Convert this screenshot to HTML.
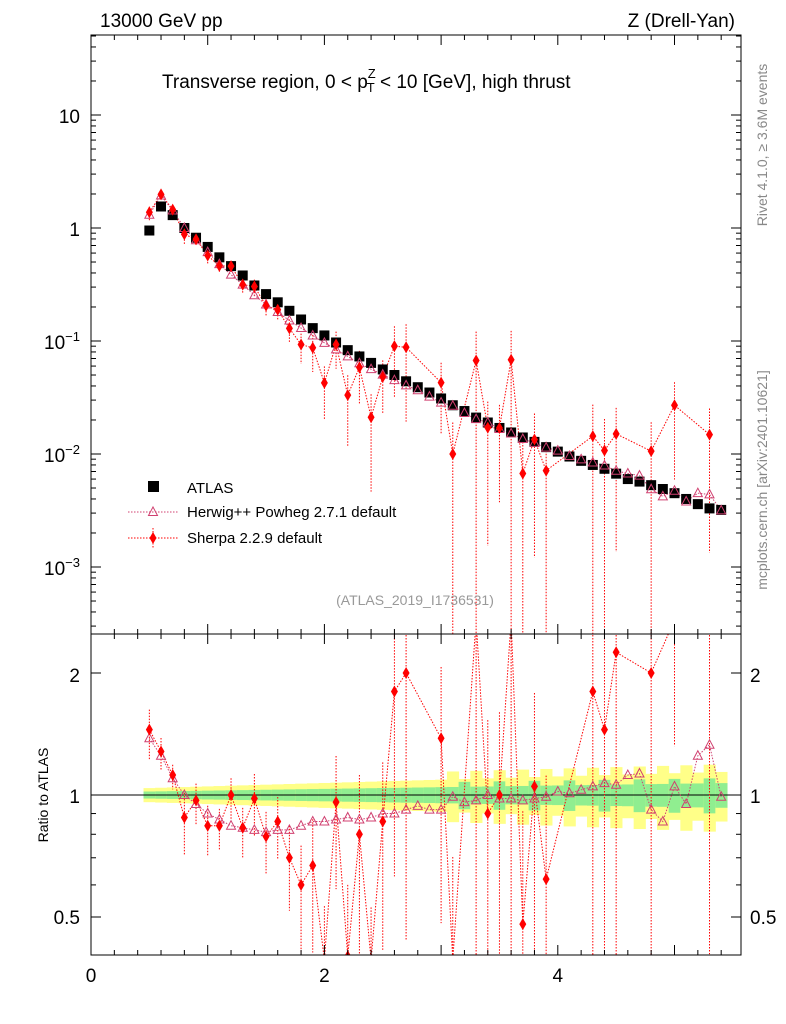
<!DOCTYPE html>
<html><head><meta charset="utf-8"><style>
html,body{margin:0;padding:0;background:#fff;width:786px;height:1024px;overflow:hidden;}
svg{display:block;}
svg text{font-family:"Liberation Sans",sans-serif;}
</style></head><body>
<svg id="s" width="786" height="1024" xmlns="http://www.w3.org/2000/svg"></svg>
<script>
const X0=91,X1=741,XS=116.7;
const fx=x=>X0+x*XS;
const fy=v=>228-113*Math.log10(v);
const fr=r=>795-122*Math.log2(r);
const cl=(v,a,b)=>Math.max(a,Math.min(b,v));
const atlas=[0.95,1.55,1.3,1.0,0.82,0.68,0.55,0.46,0.38,0.31,0.26,0.22,0.185,0.155,0.13,0.112,0.097,0.083,0.073,0.064,0.056,0.05,0.044,0.039,0.035,0.031,0.027,0.024,0.021,0.019,0.017,0.0155,0.014,0.0128,0.0115,0.0105,0.0095,0.0087,0.008,0.0074,0.0067,0.006,0.0057,0.0053,0.0049,0.0045,0.004,0.0036,0.0033,0.0032];
const hw=[1.38,1.25,1.1,1.0,0.95,0.9,0.87,0.84,0.83,0.82,0.81,0.82,0.82,0.84,0.86,0.86,0.87,0.88,0.87,0.88,0.9,0.9,0.92,0.94,0.92,0.92,0.99,0.96,0.97,1.0,0.98,0.98,0.97,0.98,0.99,1.02,1.01,1.03,1.05,1.07,1.06,1.12,1.13,0.92,0.86,1.05,0.95,1.25,1.33,0.99];
const sh=[1.45,1.28,1.12,0.88,0.97,0.84,0.84,1.0,0.83,0.98,0.79,0.86,0.7,0.6,0.67,0.38,0.96,0.4,0.8,0.33,0.86,1.8,2.0,null,null,1.38,0.37,null,3.2,0.9,1.0,4.4,0.48,1.05,0.62,null,null,null,1.8,1.45,2.25,null,null,2.0,null,6,null,null,4.5,null];
const she=[0.12,0.08,0.06,0.15,0.1,0.12,0.1,0.1,0.12,0.15,0.15,0.15,0.2,0.25,0.3,0.4,0.3,0.5,0.4,0.6,0.4,0.5,0.6,0,0,0.5,0.9,0,0.8,0.7,0.6,0.8,0.9,0.7,0.8,0,0,0,0.9,0.9,0.7,0,0,0.8,0,0.6,0,0,0.7,0];
let o='';
const L=(x1,y1,x2,y2,st)=>o+=`<line x1="${x1}" y1="${y1}" x2="${x2}" y2="${y2}" ${st}/>`;
const T=(x,y,t,sz,a,c)=>o+=`<text x="${x}" y="${y}" font-size="${sz}" text-anchor="${a||'start'}" fill="${c||'#000'}">${t}</text>`;
for(let i=0;i<50;i++){const x=0.45+0.1*i,f=i/49;const g=0.02+0.05*f+(i>25&&i%3==0?0.03:0),y=0.04+0.1*f+(i>25&&i%2==0?0.05:0);
o+=`<rect x="${fx(x)}" y="${fr(1+y)}" width="${XS*0.1+0.5}" height="${fr(1-y)-fr(1+y)}" fill="#ffff88"/>`;
o+=`<rect x="${fx(x)}" y="${fr(1+g)}" width="${XS*0.1+0.5}" height="${fr(1-g)-fr(1+g)}" fill="#90ee90"/>`;}
L(X0,795,X1,795,'stroke="#000" stroke-width="1"');
o+=`<defs><clipPath id="cm"><rect x="${X0}" y="35" width="650" height="599"/></clipPath><clipPath id="cr"><rect x="${X0}" y="634" width="650" height="321"/></clipPath></defs>`;
o+='<g clip-path="url(#cm)">';
{let d='';let first=true;sh.forEach((r,i)=>{if(r==null)return;const v=atlas[i]*r,x=fx(0.5+0.1*i),y=fy(v);d+=(first?'M':'L')+x+','+cl(y,30,640);first=false;
 const e=she[i];const lo=r-e*r*1.3;o+=`<line x1="${x}" x2="${x}" y1="${cl(fy(v*(1+e)),30,640)}" y2="${lo>0.05?cl(fy(atlas[i]*lo),30,640):640}" stroke="red" stroke-dasharray="1.5,1.5"/>`;});
 o+=`<path d="${d}" fill="none" stroke="red" stroke-dasharray="1.5,1.5"/>`;}
{let d='';hw.forEach((r,i)=>{const x=fx(0.5+0.1*i),y=fy(atlas[i]*r);d+=(i?'L':'M')+x+','+y;});o+=`<path d="${d}" fill="none" stroke="#d04070" stroke-dasharray="1.5,1.5"/>`;}
atlas.forEach((v,i)=>{const x=fx(0.5+0.1*i),y=fy(v);o+=`<rect x="${x-5}" y="${y-5}" width="10" height="10" fill="#000"/>`;});
hw.forEach((r,i)=>{const x=fx(0.5+0.1*i),y=fy(atlas[i]*r);o+=`<path d="M${x},${y-5}L${x+4.5},${y+3.5}L${x-4.5},${y+3.5}Z" fill="none" stroke="#d04070"/>`;});
sh.forEach((r,i)=>{if(r==null)return;const x=fx(0.5+0.1*i),y=fy(atlas[i]*r);o+=`<path d="M${x},${y-6}L${x+3.5},${y}L${x},${y+6}L${x-3.5},${y}Z" fill="red"/>`;});
o+='</g><g clip-path="url(#cr)">';
{let d='';let first=true;sh.forEach((r,i)=>{if(r==null)return;const x=fx(0.5+0.1*i),y=fr(r);d+=(first?'M':'L')+x+','+cl(y,620,960);first=false;const e=she[i];const lo=r-e*r*1.3;
 o+=`<line x1="${x}" x2="${x}" y1="${cl(fr(r*(1+e)),620,960)}" y2="${lo>0.05?cl(fr(lo),620,960):960}" stroke="red" stroke-dasharray="1.5,1.5"/>`;});
 o+=`<path d="${d}" fill="none" stroke="red" stroke-dasharray="1.5,1.5"/>`;}
{let d='';hw.forEach((r,i)=>{const x=fx(0.5+0.1*i),y=fr(r);d+=(i?'L':'M')+x+','+y;});o+=`<path d="${d}" fill="none" stroke="#d04070" stroke-dasharray="1.5,1.5"/>`;}
hw.forEach((r,i)=>{const x=fx(0.5+0.1*i),y=fr(r);o+=`<path d="M${x},${y-5}L${x+4.5},${y+3.5}L${x-4.5},${y+3.5}Z" fill="none" stroke="#d04070"/>`;});
sh.forEach((r,i)=>{if(r==null)return;const x=fx(0.5+0.1*i),y=fr(r);if(y<620||y>960)return;o+=`<path d="M${x},${y-6}L${x+3.5},${y}L${x},${y+6}L${x-3.5},${y}Z" fill="red"/>`;});
o+='</g>';
o+=`<rect x="${X0}" y="35" width="650" height="599" fill="none" stroke="#000"/><rect x="${X0}" y="634" width="650" height="321" fill="none" stroke="#000"/>`;
for(let d=-4;d<=1;d++)for(let k=1;k<10;k++){const y=fy(k*Math.pow(10,d));if(y<35||y>634)continue;const len=k==1?10:5;L(X0,y,X0+len,y,'stroke="#000"');L(X1,y,X1-len,y,'stroke="#000"');}
T(80,123,'10',19,'end');T(80,236,'1',19,'end');
T(80,349,'10<tspan dy="-8" font-size="13">−1</tspan>',19,'end');T(80,462,'10<tspan dy="-8" font-size="13">−2</tspan>',19,'end');T(80,575,'10<tspan dy="-8" font-size="13">−3</tspan>',19,'end');
[0.5,0.6,0.7,0.8,0.9,1,2].forEach(r=>{const y=fr(r),len=(r==0.5||r==1||r==2)?10:5;L(X0,y,X0+len,y,'stroke="#000"');L(X1,y,X1-len,y,'stroke="#000"');});
T(80,682,'2',19,'end');T(80,803,'1',19,'end');T(80,924,'0.5',19,'end');
T(750,682,'2',19);T(750,803,'1',19);T(750,924,'0.5',19);
for(let i=0;i<=28;i++){const x=fx(i*0.2);if(x>X1)break;const len=i%5==0?10:5;[[35,1],[634,1],[634,-1],[955,-1]].forEach(([y,s])=>L(x,y,x,y+s*len,'stroke="#000"'));}
T(fx(0),982,'0',19,'middle');T(fx(2),982,'2',19,'middle');T(fx(4),982,'4',19,'middle');
T(100,27,'13000 GeV pp',19);T(735,27,'Z (Drell-Yan)',19,'end');
T(162,88,'Transverse region, 0 &lt; p<tspan dy="-10" font-size="13">Z</tspan><tspan dy="14" dx="-9" font-size="13">T</tspan><tspan dy="-4"> &lt; 10 [GeV], high thrust</tspan>',19);
T(415,605,'(ATLAS_2019_I1736531)',14,'middle','#999');
o+=`<text transform="rotate(-90 48 795)" x="48" y="795" font-size="14" text-anchor="middle">Ratio to ATLAS</text>`;
o+=`<text transform="rotate(-90 767 145)" x="767" y="145" font-size="14" text-anchor="middle" fill="#888">Rivet 4.1.0, ≥ 3.6M events</text>`;
o+=`<text transform="rotate(-90 767 480)" x="767" y="480" font-size="14" text-anchor="middle" fill="#888">mcplots.cern.ch [arXiv:2401.10621]</text>`;
o+=`<rect x="148" y="481" width="11" height="11" fill="#000"/>`;T(187,493,'ATLAS',15);
L(128,512,178,512,'stroke="#d04070" stroke-dasharray="1.5,1.5"');o+=`<path d="M153,507L157.5,515.5L148.5,515.5Z" fill="none" stroke="#d04070"/>`;T(187,517,'Herwig++ Powheg 2.7.1 default',15);
L(128,538,178,538,'stroke="red" stroke-dasharray="1.5,1.5"');L(153,528,153,548,'stroke="red" stroke-dasharray="1.5,1.5"');o+=`<path d="M153,532L156.5,538L153,544L149.5,538Z" fill="red"/>`;T(187,543,'Sherpa 2.2.9 default',15);
document.getElementById('s').innerHTML=o;
</script>
</body></html>
